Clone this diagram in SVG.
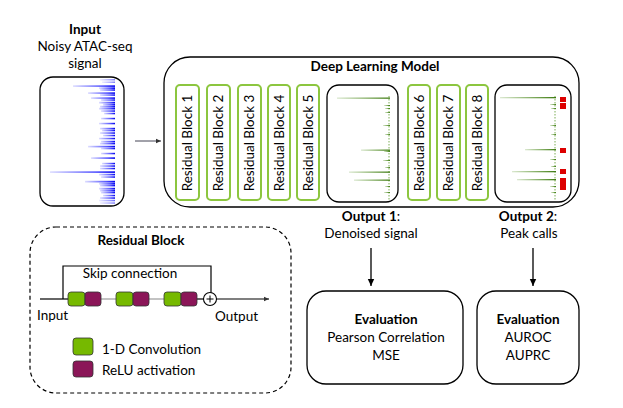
<svg xmlns="http://www.w3.org/2000/svg" width="623" height="408" viewBox="0 0 623 408">
<defs>
<style>
text{font-family:Lato,"Liberation Sans",sans-serif;fill:#000}
.t{font-size:13.5px}
.b{font-size:13.5px;font-weight:bold}
.box{fill:#fff;stroke:#000;stroke-width:1.3}
.rb{fill:#fff;stroke:#8cc63f;stroke-width:2}
.rbt{font-size:13.5px}
.conv{fill:#76b900;stroke:#333;stroke-width:0.8}
.relu{fill:#8b1658;stroke:#333;stroke-width:0.8}
.red{fill:#dd0000}
.ln{stroke:#000;stroke-width:1.2;fill:none}
</style>
<linearGradient id="bf" x1="0" y1="0" x2="1" y2="0">
<stop offset="0" stop-color="#2020ff" stop-opacity="0.15"/>
<stop offset="0.7" stop-color="#2020ff" stop-opacity="0.75"/>
<stop offset="1" stop-color="#0000ee" stop-opacity="1"/>
</linearGradient>
<linearGradient id="gf" x1="0" y1="0" x2="1" y2="0">
<stop offset="0" stop-color="#4e8f1a" stop-opacity="0.2"/>
<stop offset="1" stop-color="#3d7a10" stop-opacity="1"/>
</linearGradient>
<marker id="ah" markerWidth="8" markerHeight="8" refX="7" refY="4" orient="auto" markerUnits="userSpaceOnUse">
<path d="M0,0.8 L7,4 L0,7.2 z" fill="#000"/>
</marker>
<marker id="ahs" markerWidth="6" markerHeight="6" refX="5" refY="3" orient="auto" markerUnits="userSpaceOnUse">
<path d="M0,0.8 L5,3 L0,5.2 z" fill="#333"/>
</marker>
</defs>

<g id="input">
<text class="b" x="85" y="34" text-anchor="middle">Input</text>
<text class="t" x="85" y="51" text-anchor="middle">Noisy ATAC-seq</text>
<text class="t" x="85" y="68" text-anchor="middle">signal</text>
<rect class="box" x="40" y="77" width="84" height="129" rx="13"/>
<g fill="url(#bf)">
<rect x="100" y="79" width="15" height="1.5" opacity="0.5"/>
<rect x="102" y="81.5" width="13" height="1.5" opacity="0.5"/>
<rect x="73" y="85.3" width="42" height="1.6"/>
<rect x="99" y="87.3" width="16" height="1.8"/>
<rect x="100" y="89.3" width="15" height="1.5"/>
<rect x="88" y="92.3" width="27" height="1.6"/>
<rect x="100" y="94.3" width="15" height="1.5"/>
<rect x="91" y="97.3" width="24" height="1.6"/>
<rect x="101" y="99.3" width="14" height="1.5"/>
<rect x="99" y="101.8" width="16" height="1.7"/>
<rect x="103" y="103.8" width="12" height="1.7"/>
<rect x="100" y="105.8" width="15" height="1.7"/>
<rect x="99" y="107.8" width="16" height="1.7"/>
<rect x="101" y="110.3" width="14" height="1.5"/>
<rect x="104" y="112.8" width="11" height="1.5"/>
<rect x="101" y="117.8" width="14" height="1.5"/>
<rect x="99" y="122.8" width="16" height="1.5"/>
<rect x="100" y="127.8" width="15" height="1.6"/>
<rect x="102" y="129.8" width="13" height="1.5"/>
<rect x="100" y="132.3" width="15" height="1.5"/>
<rect x="103" y="134.8" width="12" height="1.5"/>
<rect x="99" y="137.8" width="16" height="1.5"/>
<rect x="101" y="140.8" width="14" height="1.6"/>
<rect x="100" y="142.8" width="15" height="1.6"/>
<rect x="88" y="145.8" width="27" height="1.6"/>
<rect x="101" y="147.8" width="14" height="1.5"/>
<rect x="101" y="152.8" width="14" height="1.5"/>
<rect x="91" y="157.3" width="24" height="1.6"/>
<rect x="102" y="162.8" width="13" height="1.5"/>
<rect x="100" y="165.3" width="15" height="1.5"/>
<rect x="100" y="167.8" width="15" height="1.5"/>
<rect x="50" y="171.3" width="65" height="1.6"/>
<rect x="99" y="173.8" width="16" height="1.6"/>
<rect x="101" y="176.3" width="14" height="1.5"/>
<rect x="85" y="180.8" width="30" height="1.7"/>
<rect x="99" y="182.8" width="16" height="1.8"/>
<rect x="100" y="184.8" width="15" height="1.6"/>
<rect x="99" y="187.8" width="16" height="1.7"/>
<rect x="100" y="189.8" width="15" height="1.7"/>
<rect x="101" y="191.8" width="14" height="1.6"/>
<rect x="103" y="194.8" width="12" height="1.5"/>
<rect x="100" y="197.3" width="15" height="1.5"/>
<rect x="99" y="199.8" width="16" height="1.5" opacity="0.6"/>
<rect x="100" y="202.3" width="15" height="1.5" opacity="0.5"/>
</g>
</g>

<g id="model">
<rect class="box" x="164" y="57" width="415" height="150" rx="26"/>
<text class="b" x="375" y="71" text-anchor="middle">Deep Learning Model</text>
</g>

<g id="rb1"><rect class="rb" x="176" y="85" width="23" height="115" rx="4"/><text class="rbt" transform="translate(192,143) rotate(-90)" text-anchor="middle">Residual Block 1</text></g>
<g id="rb2"><rect class="rb" x="207" y="85" width="23" height="115" rx="4"/><text class="rbt" transform="translate(223,143) rotate(-90)" text-anchor="middle">Residual Block 2</text></g>
<g id="rb3"><rect class="rb" x="238" y="85" width="23" height="115" rx="4"/><text class="rbt" transform="translate(254,143) rotate(-90)" text-anchor="middle">Residual Block 3</text></g>
<g id="rb4"><rect class="rb" x="268" y="85" width="22" height="115" rx="4"/><text class="rbt" transform="translate(284,143) rotate(-90)" text-anchor="middle">Residual Block 4</text></g>
<g id="rb5"><rect class="rb" x="297" y="85" width="22" height="115" rx="4"/><text class="rbt" transform="translate(313,143) rotate(-90)" text-anchor="middle">Residual Block 5</text></g>

<g id="denoised">
<rect class="box" x="327" y="85" width="71" height="117" rx="12"/>
<line x1="389" y1="96" x2="389" y2="200" stroke="#5a9a2a" stroke-width="1" stroke-dasharray="1.5,1.5" opacity="0.8"/>
<g fill="url(#gf)">
<rect x="337" y="97.5" width="53" height="1.3"/>
<rect x="361" y="149.5" width="29" height="1.3"/>
<rect x="349" y="171.5" width="41" height="1.3"/>
<rect x="354" y="179.5" width="36" height="1.3"/>
<rect x="384" y="105" width="6" height="1"/>
<rect x="385" y="108" width="5" height="1"/>
<rect x="385" y="112" width="5" height="1"/>
<rect x="383" y="125" width="7" height="1"/>
<rect x="385" y="134" width="5" height="1"/>
<rect x="384" y="151" width="6" height="1"/>
<rect x="383" y="160" width="7" height="1"/>
<rect x="385" y="167" width="5" height="1"/>
<rect x="385" y="186" width="5" height="1"/>
<rect x="384" y="192" width="6" height="1"/>
</g>
</g>

<g id="rb6"><rect class="rb" x="408" y="85" width="22" height="115" rx="4"/><text class="rbt" transform="translate(424,143) rotate(-90)" text-anchor="middle">Residual Block 6</text></g>
<g id="rb7"><rect class="rb" x="437" y="85" width="23" height="115" rx="4"/><text class="rbt" transform="translate(453,143) rotate(-90)" text-anchor="middle">Residual Block 7</text></g>
<g id="rb8"><rect class="rb" x="466" y="85" width="22" height="115" rx="4"/><text class="rbt" transform="translate(482,143) rotate(-90)" text-anchor="middle">Residual Block 8</text></g>

<g id="peaks">
<rect class="box" x="495" y="85" width="76" height="117" rx="12"/>
<line x1="555" y1="96" x2="555" y2="200" stroke="#5a9a2a" stroke-width="1" stroke-dasharray="1.5,1.5" opacity="0.8"/>
<g fill="url(#gf)">
<rect x="500" y="97" width="56" height="1.3"/>
<rect x="525" y="149" width="31" height="1.3"/>
<rect x="512" y="171" width="44" height="1.3"/>
<rect x="517" y="179" width="39" height="1.3"/>
<rect x="550" y="104" width="6" height="1"/>
<rect x="551" y="108" width="5" height="1"/>
<rect x="550" y="125" width="6" height="1"/>
<rect x="551" y="134" width="5" height="1"/>
<rect x="550" y="159" width="6" height="1"/>
<rect x="551" y="166" width="5" height="1"/>
<rect x="550" y="186" width="6" height="1"/>
<rect x="551" y="192" width="5" height="1"/>
</g>
<rect class="red" x="560" y="97" width="6" height="5"/>
<rect class="red" x="560" y="103" width="6" height="6"/>
<rect class="red" x="560" y="148" width="6" height="5"/>
<rect class="red" x="560" y="169" width="6" height="5"/>
<rect class="red" x="560" y="178" width="6" height="12"/>
</g>

<g id="output1">
<text x="371" y="221" text-anchor="middle" class="t"><tspan font-weight="bold">Output 1</tspan>:</text>
<text class="t" x="371" y="238" text-anchor="middle">Denoised signal</text>
</g>
<g id="output2">
<text x="528" y="221" text-anchor="middle" class="t"><tspan font-weight="bold">Output 2</tspan>:</text>
<text class="t" x="529" y="238" text-anchor="middle">Peak calls</text>
</g>

<g id="eval1">
<rect class="box" x="307" y="291" width="156" height="93" rx="19"/>
<text class="b" x="386" y="324" text-anchor="middle">Evaluation</text>
<text class="t" x="386" y="342" text-anchor="middle">Pearson Correlation</text>
<text class="t" x="386" y="360" text-anchor="middle">MSE</text>
</g>
<g id="eval2">
<rect class="box" x="477" y="291" width="102" height="93" rx="19"/>
<text class="b" x="528" y="324" text-anchor="middle">Evaluation</text>
<text class="t" x="528" y="342" text-anchor="middle">AUROC</text>
<text class="t" x="528" y="360" text-anchor="middle">AUPRC</text>
</g>

<g id="residual-legend">
<rect x="30" y="227" width="261" height="166" rx="26" fill="none" stroke="#000" stroke-width="1.2" stroke-dasharray="4,3"/>
<text class="b" x="141" y="245" text-anchor="middle">Residual Block</text>
<text class="t" x="130" y="278" text-anchor="middle">Skip connection</text>
<line x1="40" y1="299" x2="68" y2="299" stroke="#000" stroke-width="1.2"/>
<line x1="101" y1="299" x2="164" y2="299" stroke="#888" stroke-width="1.2"/>
<line x1="197" y1="299" x2="204" y2="299" stroke="#000" stroke-width="1.2"/>
<polyline class="ln" points="63,299 63,266 211,266 211,293"/>
<circle cx="210" cy="299" r="6.5" fill="#fff" stroke="#000" stroke-width="1.1"/>
<path d="M206.5,299 H213.5 M210,295.5 V302.5" stroke="#000" stroke-width="1"/>
<line x1="216.5" y1="299" x2="269" y2="299" stroke="#000" stroke-width="1.2" marker-end="url(#ahs)"/>
<rect class="conv" x="68" y="292" width="17" height="14" rx="3"/>
<rect class="relu" x="85" y="292" width="16" height="14" rx="3"/>
<rect class="conv" x="116" y="292" width="17" height="14" rx="3"/>
<rect class="relu" x="133" y="292" width="16" height="14" rx="3"/>
<rect class="conv" x="164" y="292" width="17" height="14" rx="3"/>
<rect class="relu" x="181" y="292" width="16" height="14" rx="3"/>
<text class="t" x="37" y="320">Input</text>
<text class="t" x="215" y="321">Output</text>
<rect class="conv" x="73" y="338" width="20" height="17" rx="3"/>
<rect class="relu" x="73" y="361" width="20" height="16" rx="3"/>
<text class="t" x="102" y="354">1-D Convolution</text>
<text class="t" x="102" y="375">ReLU activation</text>
</g>

<g id="connectors">
<line x1="135" y1="141" x2="161" y2="141" stroke="#445" stroke-width="1" marker-end="url(#ahs)"/>
<line x1="371" y1="248" x2="371" y2="286" stroke="#000" stroke-width="1.3" marker-end="url(#ah)"/>
<line x1="533" y1="248" x2="533" y2="286" stroke="#000" stroke-width="1.3" marker-end="url(#ah)"/>
</g>
</svg>
